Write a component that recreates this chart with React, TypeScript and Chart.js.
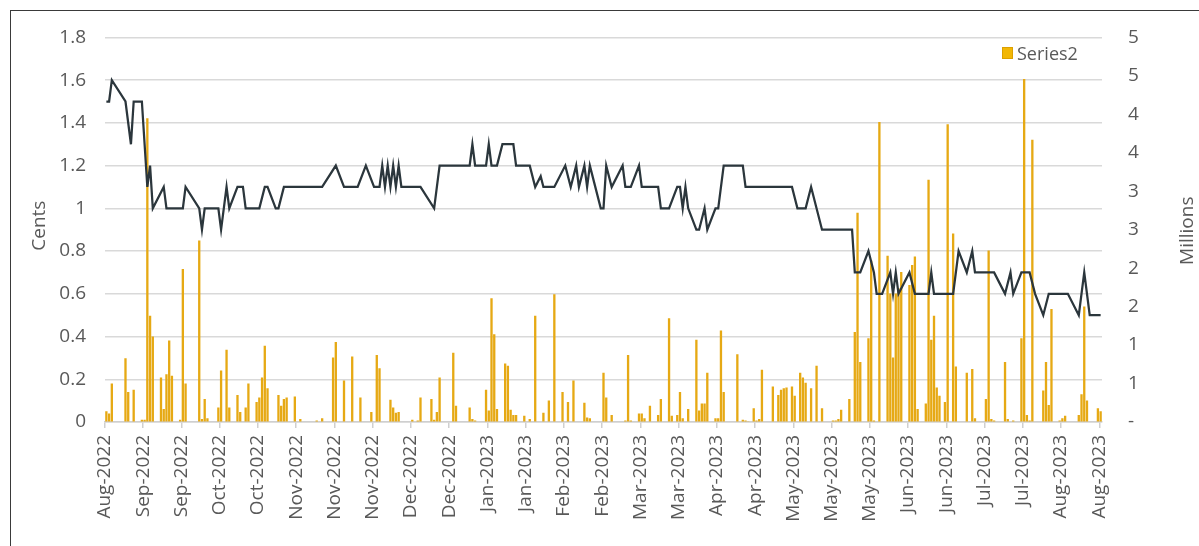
import { useEffect, useRef } from 'react';
import { Chart, registerables } from 'chart.js';

Chart.register(...registerables);

// Day 0 = 23 Aug 2022 (first slot of the date axis); axis covers 365 daily slots.
const TOTAL_DAYS = 365;
const TICK_STEP_DAYS = 14;
const TICK_LABELS = [
  'Aug-2022', 'Sep-2022', 'Sep-2022', 'Oct-2022', 'Oct-2022', 'Nov-2022', 'Nov-2022', 'Nov-2022',
  'Dec-2022', 'Dec-2022', 'Jan-2023', 'Jan-2023', 'Feb-2023', 'Feb-2023', 'Mar-2023', 'Mar-2023',
  'Apr-2023', 'Apr-2023', 'May-2023', 'May-2023', 'May-2023', 'Jun-2023', 'Jun-2023', 'Jul-2023',
  'Jul-2023', 'Aug-2023', 'Aug-2023',
];

const LEFT_TICK_MAX = 1.8;
const RIGHT_TICK_MAX = 5;

// Price line (Cents, left axis)
const PRICE_DAYS = [
  0, 1, 2, 7, 9, 10, 13, 15, 16, 17, 21, 22, 28, 29, 34, 35, 36, 41, 42, 44, 45, 48, 50, 51, 56, 58, 59, 62, 63, 65,
  79, 84, 87, 92, 95, 98, 100, 101, 102, 103, 104, 105, 106, 107, 108, 115, 120, 121, 122, 133, 134, 135, 139, 140,
  141, 143, 145, 149, 150, 155, 157, 159, 160, 164, 168, 170, 172, 173, 175, 176, 177, 181, 182, 183, 185, 189, 190,
  192, 195, 196, 202, 203, 206, 209, 210, 211, 212, 213, 216, 217, 219, 220, 223, 224, 226, 233, 234, 251, 253, 256,
  258, 262, 273, 274, 276, 279, 281, 282, 284, 287, 288, 289, 290, 294, 296, 301, 302, 303, 310, 312, 315, 317, 318,
  325, 327, 329, 331, 332, 335, 338, 340, 343, 345, 352, 356, 358, 360, 364,
];
const PRICE_CENTS = [
  1.5, 1.5, 1.6, 1.5, 1.3, 1.5, 1.5, 1.1, 1.2, 1.0, 1.1, 1.0, 1.0, 1.1, 1.0, 0.9, 1.0, 1.0, 0.9, 1.1, 1.0, 1.1, 1.1, 1.0, 1.0, 1.1, 1.1, 1.0, 1.0, 1.1,
  1.1, 1.2, 1.1, 1.1, 1.2, 1.1, 1.1, 1.2, 1.1, 1.2, 1.1, 1.2, 1.1, 1.2, 1.1, 1.1, 1.0, 1.1, 1.2, 1.2, 1.3, 1.2, 1.2, 1.3,
  1.2, 1.2, 1.3, 1.3, 1.2, 1.2, 1.1, 1.15, 1.1, 1.1, 1.2, 1.1, 1.2, 1.1, 1.2, 1.1, 1.2, 1.0, 1.0, 1.2, 1.1, 1.2, 1.1,
  1.1, 1.2, 1.1, 1.1, 1.0, 1.0, 1.1, 1.1, 1.0, 1.1, 1.0, 0.9, 0.9, 1.0, 0.9, 1.0, 1.0, 1.2, 1.2, 1.1, 1.1, 1.0, 1.0,
  1.1, 0.9, 0.9, 0.7, 0.7, 0.8, 0.7, 0.6, 0.6, 0.7, 0.6, 0.7, 0.6, 0.7, 0.6, 0.6, 0.7, 0.6, 0.6, 0.8, 0.7, 0.8, 0.7,
  0.7, 0.65, 0.6, 0.7, 0.6, 0.7, 0.7, 0.6, 0.5, 0.6, 0.6, 0.5, 0.7, 0.5, 0.5,
];

// Volume bars (Millions, right axis) — "Series2"
const VOLUME_DAYS = [
  0, 1, 2, 7, 8, 10, 13, 14, 15, 16, 17, 20, 21, 22, 23, 24, 27, 28, 29, 34, 35, 36, 37, 41, 42, 44, 45, 48, 49, 51,
  52, 55, 56, 57, 58, 59, 63, 64, 65, 66, 69, 71, 77, 79, 83, 84, 87, 90, 93, 97, 99, 100, 104, 105, 106, 107, 112,
  114, 115, 119, 120, 121, 122, 127, 128, 133, 134, 135, 139, 140, 141, 142, 143, 146, 147, 148, 149, 150, 153, 155,
  157, 160, 162, 164, 167, 169, 171, 175, 176, 177, 182, 183, 185, 190, 191, 192, 195, 196, 197, 199, 202, 203, 206,
  207, 209, 210, 211, 213, 216, 217, 218, 219, 220, 223, 224, 225, 226, 231, 233, 234, 235, 237, 238, 239, 240, 244,
  246, 247, 248, 249, 251, 252, 254, 255, 256, 258, 260, 262, 266, 267, 268, 269, 272, 274, 275, 276, 279, 280, 281,
  283, 286, 287, 288, 289, 290, 291, 294, 295, 296, 297, 300, 301, 302, 303, 304, 305, 307, 308, 310, 311, 315, 317,
  318, 322, 323, 324, 325, 329, 330, 332, 335, 336, 337, 338, 339, 343, 344, 345, 346, 349, 350, 351, 356, 357, 358,
  359, 363, 364,
];
const VOLUME_MILLIONS = [
  0.14, 0.11, 0.5, 0.83, 0.39, 0.42, 0.03, 0.03, 3.95, 1.38, 1.11, 0.58, 0.17, 0.62, 1.06, 0.6, 0.03, 1.99, 0.5, 2.36,
  0.04, 0.3, 0.05, 0.19, 0.67, 0.94, 0.19, 0.35, 0.13, 0.19,
  0.5, 0.26, 0.32, 0.58, 0.99, 0.44, 0.35, 0.21, 0.3, 0.32, 0.33, 0.04, 0.02, 0.05, 0.84, 1.04, 0.54, 0.85, 0.32, 0.13,
  0.87, 0.7, 0.29, 0.19, 0.12, 0.13, 0.03,
  0.02, 0.32, 0.3, 0.03, 0.13, 0.58, 0.9, 0.21, 0.19, 0.04, 0.02, 0.42, 0.15, 1.61, 1.14, 0.17, 0.76, 0.73, 0.16, 0.09,
  0.09, 0.08, 0.04,
  1.38, 0.12, 0.28, 1.66, 0.39, 0.26, 0.54, 0.25, 0.06, 0.05, 0.64, 0.32, 0.09, 0.02, 0.87, 0.02, 0.11, 0.11, 0.05,
  0.21, 0.09, 0.3, 1.35,
  0.08, 0.09, 0.39, 0.05, 0.17, 1.07, 0.15, 0.24, 0.24, 0.64, 0.05, 0.05, 1.19, 0.39, 0.88, 0.03, 0.02, 0.01, 0.18,
  0.02, 0.04, 0.68, 0.46,
  0.35, 0.42, 0.44, 0.45, 0.46, 0.34, 0.64, 0.58, 0.51, 0.44, 0.73, 0.18, 0.02, 0.02, 0.04, 0.16, 0.3, 1.17, 2.72,
  0.78, 1.09, 2.1, 0.02,
  3.9, 2.16, 1.67, 0.84, 1.67, 1.74, 1.95, 1.78, 2.04, 2.15, 0.17, 0.24, 3.15, 1.07, 1.38, 0.45, 0.34, 0.26, 3.87,
  2.45, 0.72, 0.64, 0.69,
  0.05, 0.3, 2.23, 0.04, 0.02, 0.78, 0.04, 0.02, 1.09, 4.46, 0.09, 0.02, 3.67, 0.41, 0.78, 0.22, 1.47, 0.02, 0.05,
  0.08, 0.09, 0.36, 1.5,
  0.28, 0.18, 0.14,
];

const FONT = '"Open Sans", "DejaVu Sans", sans-serif';
const TEXT_COLOR = '#595959';
const GRID_COLOR = '#d9d9d9';
const AXIS_COLOR = '#cfcfcf';
const BAR_COLOR = '#e6a914';
const LINE_COLOR = '#2b363c';

const overlayPlugin = {
  id: 'overlay',
  afterDraw(chart: any) {
    const ctx = chart.ctx as CanvasRenderingContext2D;
    const area = chart.chartArea;
    const midY = (area.top + area.bottom) / 2;
    ctx.save();
    ctx.fillStyle = TEXT_COLOR;
    ctx.font = `19px ${FONT}`;
    ctx.textAlign = 'center';
    ctx.textBaseline = 'middle';
    // Left axis title
    ctx.save();
    ctx.translate(40, midY - 4);
    ctx.rotate(-Math.PI / 2);
    ctx.fillText('Cents', 0, 0);
    ctx.restore();
    // Right axis title
    ctx.save();
    ctx.translate(1188, midY + 1);
    ctx.rotate(-Math.PI / 2);
    ctx.fillText('Millions', 0, 0);
    ctx.restore();
    // Legend (inside plot, top right)
    ctx.fillStyle = '#f2b705';
    ctx.strokeStyle = '#dca000';
    ctx.lineWidth = 1;
    ctx.fillRect(1002, 47, 11, 12);
    ctx.strokeRect(1002.5, 47.5, 10, 11);
    ctx.fillStyle = TEXT_COLOR;
    ctx.font = `18px ${FONT}`;
    ctx.textAlign = 'left';
    ctx.textBaseline = 'alphabetic';
    ctx.fillText('Series2', 1017, 60);
    ctx.restore();
  },
};

export default function App() {
  const ref = useRef<HTMLCanvasElement>(null);

  useEffect(() => {
    const canvas = ref.current;
    if (!canvas) return;
    Chart.defaults.font.family = FONT;

    const lineData = PRICE_DAYS.map((d, i) => ({ x: d, y: PRICE_CENTS[i] }));
    const barData = VOLUME_DAYS.map((d, i) => ({ x: d, y: VOLUME_MILLIONS[i] }));
    const tickValues = TICK_LABELS.map((_, k) => k * TICK_STEP_DAYS - 0.5);

    const chart = new Chart(canvas, {
      data: {
        datasets: [
          {
            type: 'line',
            label: 'Series1',
            data: lineData,
            yAxisID: 'y',
            borderColor: LINE_COLOR,
            backgroundColor: LINE_COLOR,
            borderWidth: 2.25,
            pointRadius: 0,
            tension: 0,
            order: 0,
          },
          {
            type: 'bar',
            label: 'Series2',
            data: barData,
            yAxisID: 'y1',
            backgroundColor: BAR_COLOR,
            barPercentage: 0.85,
            categoryPercentage: 1,
            order: 1,
          },
        ],
      } as any,
      options: {
        responsive: false,
        animation: false,
        devicePixelRatio: 1,
        layout: { padding: { top: 33, left: 0, right: 0, bottom: 0 } },
        plugins: { legend: { display: false }, tooltip: { enabled: false } },
        scales: {
          x: {
            type: 'linear',
            offset: false,
            min: -0.5,
            max: TOTAL_DAYS - 0.5,
            afterBuildTicks: (s: any) => {
              s.ticks = tickValues.map((v) => ({ value: v }));
            },
            afterFit: (s: any) => {
              s.height = 124;
            },
            ticks: {
              autoSkip: false,
              minRotation: 90,
              maxRotation: 90,
              padding: 7,
              color: TEXT_COLOR,
              font: { family: FONT, size: 19 },
              callback: (_v: any, i: number) => TICK_LABELS[i],
            },
            grid: {
              offset: false,
              drawOnChartArea: false,
              drawTicks: true,
              tickLength: 6,
              color: AXIS_COLOR,
              lineWidth: 1.5,
            },
            border: { display: true, color: AXIS_COLOR, width: 1.5 },
          },
          y: {
            position: 'left',
            min: 0,
            max: LEFT_TICK_MAX,
            afterFit: (s: any) => {
              s.width = 105;
            },
            ticks: {
              stepSize: 0.2,
              padding: 19,
              color: TEXT_COLOR,
              font: { family: FONT, size: 19 },
              callback: (v: any) => String(Number(Number(v).toFixed(1))),
            },
            grid: { color: GRID_COLOR, lineWidth: 1.5, drawTicks: false },
            border: { display: false },
          },
          y1: {
            position: 'right',
            min: 0,
            max: RIGHT_TICK_MAX,
            afterFit: (s: any) => {
              s.width = 97;
            },
            ticks: {
              stepSize: 0.5,
              padding: 26,
              color: TEXT_COLOR,
              font: { family: FONT, size: 19 },
              callback: (v: any) => (Number(v) === 0 ? '-' : String(Math.round(Number(v)))),
            },
            grid: { drawOnChartArea: false, drawTicks: false },
            border: { display: false },
          },
        },
      } as any,
      plugins: [overlayPlugin],
    });

    return () => chart.destroy();
  }, []);

  return (
    <div
      style={{
        position: 'fixed',
        left: 0,
        top: 0,
        width: 1199,
        height: 546,
        overflow: 'hidden',
        background: '#ffffff',
      }}
    >
      <div
        style={{
          position: 'absolute',
          left: 10,
          top: 10,
          width: 1199,
          height: 546,
          border: '1px solid #3a3a3a',
        }}
      />
      <canvas ref={ref} width={1199} height={546} style={{ position: 'absolute', left: 0, top: 0 }} />
    </div>
  );
}
